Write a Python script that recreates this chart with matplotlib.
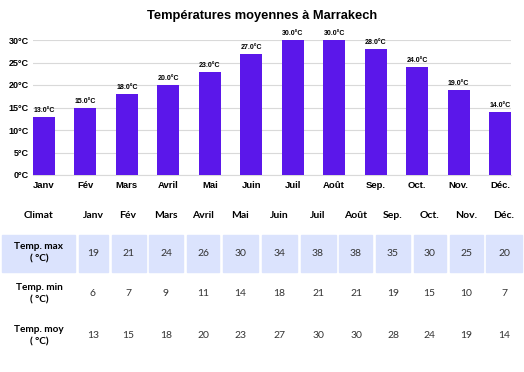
import matplotlib
matplotlib.use("Agg")
import matplotlib.pyplot as plt
from matplotlib.patches import Rectangle

months = ["Janv", "Fév", "Mars", "Avril", "Mai", "Juin", "Juil", "Août", "Sep.", "Oct.", "Nov.", "Déc."]
temp_moy = [13, 15, 18, 20, 23, 27, 30, 30, 28, 24, 19, 14]
temp_max = [19, 21, 24, 26, 30, 34, 38, 38, 35, 30, 25, 20]
temp_min = [6, 7, 9, 11, 14, 18, 21, 21, 19, 15, 10, 7]
yticks = [0, 5, 10, 15, 20, 25, 30]
title = "Températures moyennes à Marrakech"
row_labels = ["Temp. max\n( °C)", "Temp. min\n( °C)", "Temp. moy\n( °C)"]

W, H = 524, 372
fig = plt.figure(figsize=(W / 100, H / 100), dpi=100)

def fx(px):
    return px / W

def fy(py):
    return 1 - py / H

BAR = "#5b17ea"
CELL = "#dbe3fd"
TF = "Liberation Sans"
TBL = "Lato"

# chart axes
ax = fig.add_axes([fx(33), fy(175), fx(511) - fx(33), fy(40) - fy(175)])
x = list(range(len(months)))
ax.bar(x, temp_moy, width=0.53, color=BAR, zorder=3)
ax.set_xlim(-0.265, 11.265)
ax.set_ylim(0, 30)
ax.set_yticks(yticks)
ax.set_yticklabels([f"{v}°C" for v in yticks], fontsize=6.5, fontweight="bold", family=TF)
ax.set_xticks(x)
ax.set_xticklabels(months, fontsize=6.8, fontweight="bold", family=TF)
ax.tick_params(length=0, pad=3)
ax.tick_params(axis="x", pad=4)
ax.grid(axis="y", color="#d9d9d9", linewidth=0.8, zorder=0)
for s in ["top", "right", "left"]:
    ax.spines[s].set_visible(False)
ax.spines["bottom"].set_color("#d9d9d9")
for xi, v in zip(x, temp_moy):
    ax.text(xi, v + 0.6, f"{v:.1f}°C", ha="center", va="bottom", fontsize=5,
            fontweight="bold", family=TF, clip_on=False)

fig.text(0.5, fy(16), title, ha="center", va="center", fontsize=9.3, fontweight="bold", family=TF)

# table
col_centers = [93, 128, 166, 203, 240, 279, 318, 356, 393, 429, 466, 504]
cell_edges = [(79, 108), (112, 146), (149, 183), (187, 219), (223, 258), (262, 297),
              (301, 336), (339, 372), (376, 410), (414, 446), (450, 483), (486, 522)]
label_x = 39

fig.text(fx(label_x), fy(215), "Climat", ha="center", va="center", fontsize=7.5,
         fontweight="bold", family=TBL)
for cx, m in zip(col_centers, months):
    fig.text(fx(cx), fy(215), m, ha="center", va="center", fontsize=7.5,
             fontweight="bold", family=TBL)

# highlighted max row cells
top, bot = 235, 272
fig.add_artist(Rectangle((fx(2), fy(bot)), fx(75) - fx(2), fy(top) - fy(bot),
                         transform=fig.transFigure, color=CELL, zorder=0))
for l, r in cell_edges:
    fig.add_artist(Rectangle((fx(l), fy(bot)), fx(r) - fx(l), fy(top) - fy(bot),
                             transform=fig.transFigure, color=CELL, zorder=0))

rows = [temp_max, temp_min, temp_moy]
row_y = [253, 294, 336]
for lab, vals, yy in zip(row_labels, rows, row_y):
    fig.text(fx(label_x), fy(yy), lab, ha="center", va="center", fontsize=7.2,
             fontweight="bold", family=TBL, linespacing=1.55)
    for cx, v in zip(col_centers, vals):
        fig.text(fx(cx), fy(yy), str(v), ha="center", va="center", fontsize=7.5,
                 family=TBL, color="#333333")

fig.savefig("out.png", dpi=100)
